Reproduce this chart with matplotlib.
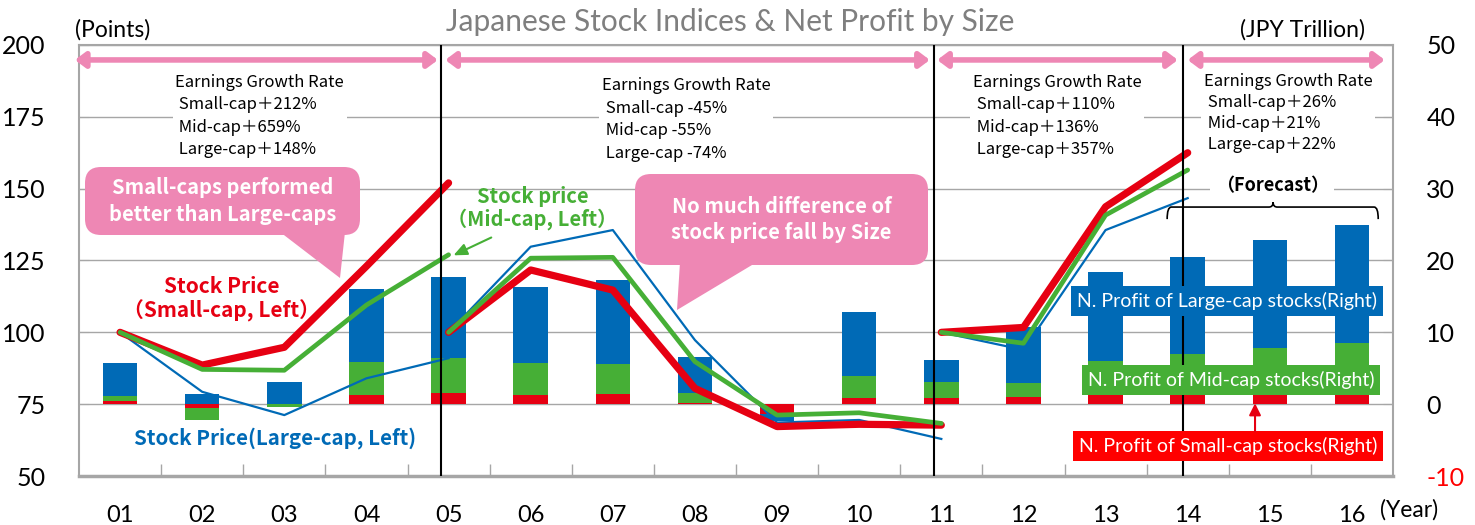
import matplotlib
matplotlib.use("Agg")
import matplotlib.pyplot as plt
import numpy as np
from matplotlib.patches import FancyBboxPatch, Polygon, PathPatch
from matplotlib.path import Path

# ---- data -------------------------------------------------------------
years = ["01", "02", "03", "04", "05", "06", "07", "08",
         "09", "10", "11", "12", "13", "14", "15", "16"]

# net profit by size (JPY trillion, right axis)
profit_small = [0.4, -0.6, 0.05, 1.25, 1.5, 1.3, 1.35, 0.1,
                -1.3, 0.9, 0.9, 1.0, 1.25, 1.3, 1.3, 1.4]
profit_mid = [0.7, -1.6, -0.45, 4.6, 4.9, 4.4, 4.2, 1.5,
              0.0, 3.0, 2.2, 1.95, 4.75, 5.7, 6.45, 7.1]
profit_large = [4.7, 1.4, 3.0, 10.2, 11.3, 10.6, 11.75, 4.9,
                -1.0, 8.9, 3.1, 7.75, 12.4, 13.5, 15.15, 16.4]

# stock price indices (rebased to 100 at the start of each period, left axis)
period_start = [0, 4, 10]
small_price = [[100, 88.6, 94.8, 123, 152],
               [100, 121.7, 114.7, 80.5, 67.2, 68.0, 67.7],
               [100, 101.7, 143.7, 162.5]]
mid_price = [[100, 87.1, 86.8, 109.5, 127.0],
             [100, 125.8, 126.1, 89.8, 71.2, 72.0, 68.3],
             [100, 96.2, 140.8, 156.5]]
large_price = [[100, 79.3, 71.2, 84.0, 91.0],
               [100, 129.8, 135.6, 97.3, 68.6, 69.5, 62.9],
               [100, 93.9, 135.6, 146.7]]

growth_text = [
    "Earnings Growth Rate\n Small-cap＋212%\n Mid-cap＋659%\n Large-cap＋148%",
    "Earnings Growth Rate\n Small-cap -45%\n Mid-cap -55%\n Large-cap -74%",
    "Earnings Growth Rate\n Small-cap＋110%\n Mid-cap＋136%\n Large-cap＋357%",
    "Earnings Growth Rate\n Small-cap＋26%\n Mid-cap＋21%\n Large-cap＋22%",
]

RED = "#E60012"
GREEN = "#46AF36"
BLUE = "#006AB6"
PINK = "#EE87B4"
GREY = "#A6A6A6"

CJK = ["Noto Sans CJK JP", "DejaVu Sans"]
plt.rcParams["font.family"] = ["Lato", "DejaVu Sans"]
plt.rcParams["axes.unicode_minus"] = False

fig = plt.figure(figsize=(14.75, 5.25), dpi=100)
ax_bar = fig.add_axes([79 / 1475, 49 / 525, 1314 / 1475, 431 / 525])
ax = ax_bar.twinx()

x = np.arange(len(years))

# ---- stacked bars (right axis) ---------------------------------------
pos = np.zeros(len(years))
neg = np.zeros(len(years))
for vals, col in [(profit_small, RED), (profit_mid, GREEN), (profit_large, BLUE)]:
    v = np.array(vals)
    bottom = np.where(v >= 0, pos, neg)
    ax_bar.bar(x, v, 0.42, bottom=bottom, color=col, zorder=2)
    pos = np.where(v >= 0, pos + v, pos)
    neg = np.where(v < 0, neg + v, neg)

ax_bar.set_ylim(-10, 50)
ax_bar.set_xlim(-0.5, 15.5)
ax_bar.set_yticks([-10, 0, 10, 20, 30, 40, 50])
ax_bar.yaxis.tick_right()
ax_bar.grid(axis="y", color=GREY, lw=1, zorder=0)
ax_bar.set_axisbelow(True)
ax_bar.tick_params(axis="y", direction="in", length=7, color=GREY,
                   labelsize=18, pad=24)
for lbl in ax_bar.get_yticklabels():
    if lbl.get_text().startswith("-"):
        lbl.set_color("red")
ax_bar.set_xticks(x)
ax_bar.set_xticklabels(years)
ax_bar.set_xticks(x[:-1] + 0.5, minor=True)
ax_bar.tick_params(axis="x", which="major", length=0, labelsize=17, pad=21)
ax_bar.tick_params(axis="x", which="minor", direction="in", length=9, color=GREY, width=1)
for s in ax_bar.spines.values():
    s.set_color(GREY)
    s.set_linewidth(1.5)
ax_bar.spines["bottom"].set_linewidth(2.5)

# ---- price lines (left axis) -----------------------------------------
ax.set_ylim(50, 200)
ax.set_yticks([50, 75, 100, 125, 150, 175, 200])
ax.yaxis.tick_left()
ax.tick_params(axis="y", direction="in", length=7, color=GREY, labelsize=18, pad=24)
for s in ax.spines.values():
    s.set_visible(False)

for start, seg in zip(period_start, large_price):
    ax.plot(np.arange(start, start + len(seg)), seg, color=BLUE, lw=1.6, zorder=3)
for start, seg in zip(period_start, mid_price):
    ax.plot(np.arange(start, start + len(seg)), seg, color=GREEN, lw=3.4,
            solid_capstyle="round", zorder=4)
for start, seg in zip(period_start, small_price):
    ax.plot(np.arange(start, start + len(seg)), seg, color=RED, lw=5.2,
            solid_capstyle="round", zorder=3.5)

# period dividers
for xd in [3.91, 9.91, 12.94]:
    ax.axvline(xd, color="black", lw=1.5, zorder=5)

# pink period arrows
for x0, x1 in [(-0.55, 3.87), (3.96, 9.86), (9.95, 12.88), (13.0, 15.4)]:
    ax.annotate("", xy=(x1, 194.8), xytext=(x0, 194.8), annotation_clip=False,
                arrowprops=dict(arrowstyle="<|-|>,head_length=0.6,head_width=0.45",
                                color=PINK, lw=4, shrinkA=0, shrinkB=0))

# earnings growth text blocks
for (gx, gy, ls), txt in zip([(1.70, 175.3, 1.42), (6.89, 174.1, 1.42),
                              (11.41, 175.3, 1.42), (14.22, 176.4, 1.32)], growth_text):
    ax.text(gx, gy, txt, ha="center", va="center", multialignment="left",
            fontsize=12, family=CJK, linespacing=ls, zorder=6,
            bbox=dict(boxstyle="square,pad=0.15", fc="white", ec="none"))

# callouts (pixel-based boxes)
def px(xp, yp):
    return xp / 100, (525 - yp) / 100

for (bx0, by0, bx1, by1), tail, txt in [
        ((85, 167, 360, 235), [(280, 232), (345, 232), (340, 278)],
         "Small-caps performed\nbetter than Large-caps"),
        ((635, 174, 928, 265), [(680, 262), (757, 262), (677, 310)],
         "No much difference of\nstock price fall by Size")]:
    x0i, y1i = px(bx0, by0)
    x1i, y0i = px(bx1, by1)
    box = FancyBboxPatch((x0i, y0i), x1i - x0i, y1i - y0i,
                         boxstyle="round,pad=0,rounding_size=0.16",
                         transform=fig.dpi_scale_trans, fc=PINK, ec="none",
                         clip_on=False, zorder=7)
    ax.add_patch(box)
    tri = Polygon([px(*p) for p in tail], closed=True, transform=fig.dpi_scale_trans,
                  fc=PINK, ec="none", clip_on=False, zorder=7)
    ax.add_patch(tri)
    ax.text((x0i + x1i) / 2, (y0i + y1i) / 2, txt, transform=fig.dpi_scale_trans,
            ha="center", va="center", color="white", fontsize=14.5, fontweight="bold",
            family=CJK, linespacing=1.3, zorder=8)

# series labels
ax.text(1.24, 111.6, "Stock Price\n（Small-cap, Left）", color=RED, fontsize=15,
        fontweight="bold", family=CJK, ha="center", va="center", linespacing=1.15, zorder=6)
ax.text(5.02, 143.3, "Stock price\n（Mid-cap, Left）", color=GREEN, fontsize=14.5,
        fontweight="bold", family=CJK, ha="center", va="center", linespacing=1.1, zorder=6)
ax.annotate("", xy=(4.06, 126.8), xytext=(4.52, 133.0),
            arrowprops=dict(arrowstyle="-|>,head_length=0.8,head_width=0.35",
                            color=GREEN, lw=1.5, shrinkA=0, shrinkB=0), zorder=6)
ax.text(1.89, 63.2, "Stock Price(Large-cap, Left)", color=BLUE, fontsize=14.8,
        fontweight="bold", family=CJK, ha="center", va="center", zorder=6)

# forecast bracket
ax.text(14.03, 150.9, "（Forecast）", fontsize=13, fontweight="bold", family=CJK,
        ha="center", va="center", zorder=6,
        bbox=dict(boxstyle="square,pad=0.3", fc="white", ec="none"))
bx0, bx1, bm = 12.75, 15.32, 14.04
yb, ye, yt = 143.6, 139.4, 145.3
verts = [(bx0, ye), (bx0, yb), (bx0 + 0.05, yb),
         (bm - 0.05, yb), (bm, yb), (bm, yt),
         (bm, yb), (bm + 0.05, yb),
         (bx1 - 0.05, yb), (bx1, yb), (bx1, ye)]
codes = [Path.MOVETO, Path.CURVE3, Path.CURVE3,
         Path.LINETO, Path.CURVE3, Path.CURVE3,
         Path.CURVE3, Path.CURVE3,
         Path.LINETO, Path.CURVE3, Path.CURVE3]
ax.add_patch(PathPatch(Path(verts, codes), fc="none", ec="black", lw=1.2, zorder=6))

# net profit labels
for (lx, ly), txt, col in [((13.48, 110.9), "N. Profit of Large-cap stocks(Right)", BLUE),
                           ((13.53, 83.4), "N. Profit of Mid-cap stocks(Right)", GREEN),
                           ((13.49, 60.4), "N. Profit of Small-cap stocks(Right)", "#FF0000")]:
    ax.text(lx, ly, txt, color="white", fontsize=14, family=["Lato", "DejaVu Sans"],
            ha="center", va="center", zorder=8,
            bbox=dict(boxstyle="square,pad=0.3", fc=col, ec="none"))
ax.annotate("", xy=(13.82, 75.3), xytext=(13.82, 65.4),
            arrowprops=dict(arrowstyle="-|>,head_length=0.7,head_width=0.35",
                            color=RED, lw=1.5, shrinkA=0, shrinkB=0), zorder=8)

# titles and units
fig.text(0.495, 0.958, "Japanese Stock Indices & Net Profit by Size", color="#7F7F7F",
         fontsize=21.5, ha="center", va="center")
fig.text(75 / 1475, 1 - 30 / 525, "(Points)", fontsize=16.5, ha="left", va="center")
fig.text(1365 / 1475, 1 - 30 / 525, "(JPY Trillion)", fontsize=16.5, ha="right", va="center")
fig.text(1380 / 1475, 1 - 510 / 525, "(Year)", fontsize=16.5, ha="left", va="center")

fig.savefig("out.png", dpi=100)
